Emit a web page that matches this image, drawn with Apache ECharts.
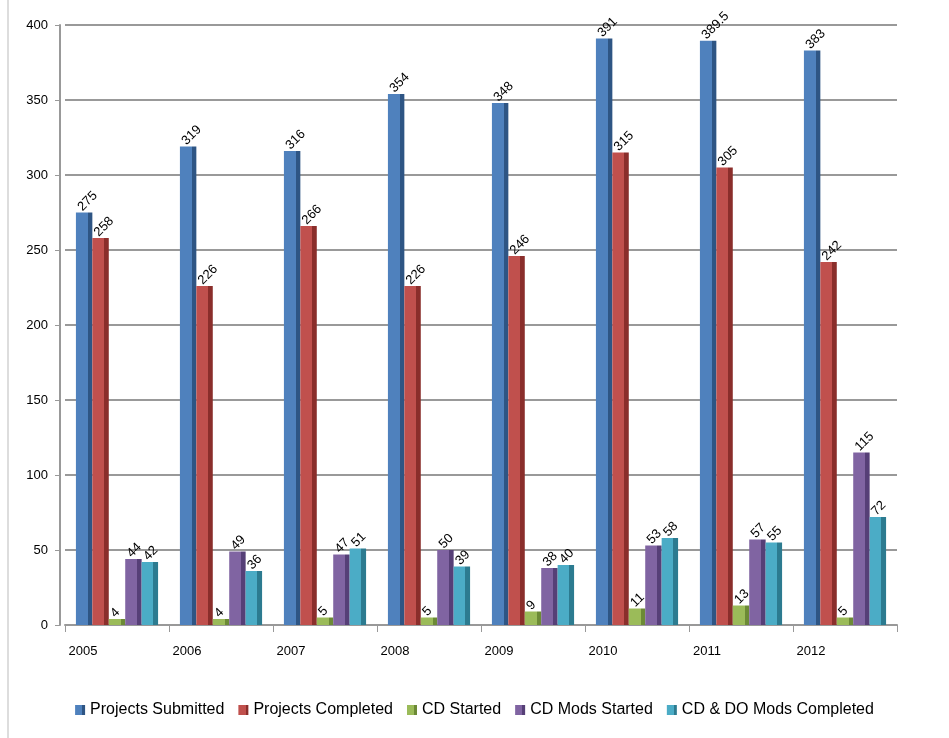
<!DOCTYPE html>
<html><head><meta charset="utf-8">
<script src="https://cdn.jsdelivr.net/npm/echarts@6/dist/echarts.min.js"></script>
<style>html,body{margin:0;padding:0;background:#fff}#c{width:949px;height:738px}</style>
</head><body><div id="c"></div>
<script>
const categories = ['2005','2006','2007','2008','2009','2010','2011','2012'];
const projectsSubmitted = [275, 319, 316, 354, 348, 391, 389.5, 383];
const projectsCompleted = [258, 226, 266, 226, 246, 315, 305, 242];
const cdStarted = [4, 4, 5, 5, 9, 11, 13, 5];
const cdModsStarted = [44, 49, 47, 50, 38, 53, 57, 115];
const cdDoModsCompleted = [42, 36, 51, 39, 40, 58, 55, 72];
const yTicks = [0, 50, 100, 150, 200, 250, 300, 350, 400];

const names = ['Projects Submitted','Projects Completed','CD Started','CD Mods Started','CD & DO Mods Completed'];
const colors = ['#4F81BD','#C0504D','#9BBB59','#8064A2','#4BACC6'];
const darks = ['#2E5584','#8A2E2B','#6C8A36','#563F77','#2C7B90'];
const datasets = [projectsSubmitted, projectsCompleted, cdStarted, cdModsStarted, cdDoModsCompleted];
const FONT = '"Liberation Sans Narrow","Liberation Sans",sans-serif';

const chart = echarts.init(document.getElementById('c'));
chart.setOption({
  animation: false,
  textStyle: {fontFamily: FONT},
  graphic: [{type:'line', shape:{x1:8,y1:0,x2:8,y2:738}, style:{stroke:'#bbb', lineWidth:1}}],
  legend: {
    bottom: 15, left: 'center', itemWidth: 10, itemHeight: 10, itemGap: 14, icon: 'rect',
    textStyle: {fontSize: 16, color: '#000', fontFamily: FONT},
    data: names
  },
  grid: {left: 65, right: 52, top: 25, bottom: 113},
  xAxis: {
    type: 'category', data: categories,
    axisLine: {lineStyle: {color: '#999', width: 2}},
    axisTick: {show: true, length: 7, lineStyle: {color: '#999'}},
    axisLabel: {fontSize: 13, color: '#000', margin: 20, padding: [0, 68, 0, 0], fontFamily: FONT}
  },
  yAxis: {
    type: 'value', min: 0, max: 400, interval: 50, offset: 5,
    axisLine: {show: true, lineStyle: {color: '#999', width: 2}},
    axisTick: {show: true, inside: false, length: 5, lineStyle: {color: '#999'}},
    axisLabel: {fontSize: 13, color: '#000', margin: 12, fontFamily: FONT},
    splitLine: {lineStyle: {color: '#999', width: 2}}
  },
  series: datasets.map((d, i) => ({
    name: names[i], type: 'bar', data: d, barGap: '0%', barCategoryGap: '21%',
    itemStyle: {color: {type:'linear', x:0, y:0, x2:1, y2:0, colorStops:[
      {offset:0, color: colors[i]}, {offset:0.72, color: colors[i]},
      {offset:0.72, color: darks[i]}, {offset:1, color: darks[i]}]}},
    label: {show: true, position: 'top', rotate: 45, align: 'left', verticalAlign: 'middle',
      offset: [-4, -2], fontSize: 13, color: '#000', fontFamily: FONT}
  })),
  color: colors
});
</script></body></html>
